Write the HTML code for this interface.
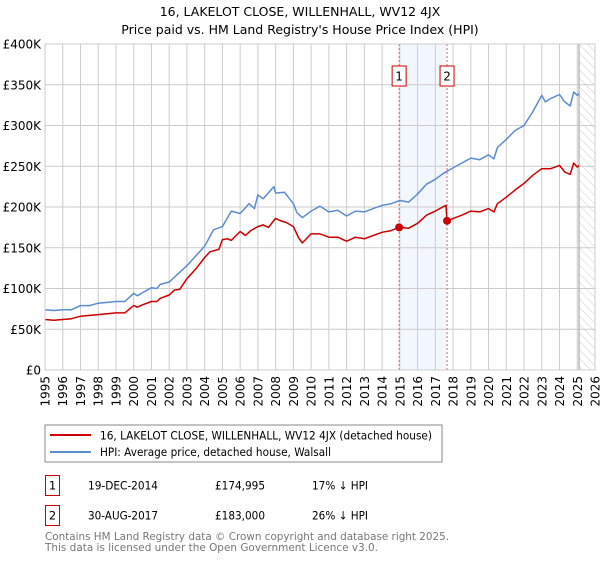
<!DOCTYPE html>
<html><head><meta charset="utf-8"><style>
body{margin:0;background:#fff;font-family:"Liberation Sans","DejaVu Sans",sans-serif;}
svg text{font-family:"DejaVu Sans","Liberation Sans",sans-serif;}
</style></head><body>
<svg id="chart" width="600" height="560" viewBox="0 0 600 560" xmlns="http://www.w3.org/2000/svg">
<defs><pattern id="hatch" width="6" height="6" patternUnits="userSpaceOnUse" patternTransform="rotate(-45)"><line x1="0" y1="0" x2="0" y2="6" stroke="#ccc" stroke-width="1"/></pattern></defs>
<text x="300" y="16" text-anchor="middle" font-size="12.5" fill="#000">16, LAKELOT CLOSE, WILLENHALL, WV12 4JX</text>
<text x="300" y="34" text-anchor="middle" font-size="12.5" fill="#000">Price paid vs. HM Land Registry's House Price Index (HPI)</text>
<g id="plot"></g>
<rect x="45" y="425" width="397" height="37" fill="#fff" stroke="#888"/>
<line x1="50" y1="435" x2="91" y2="435" stroke="#cc0000" stroke-width="2"/>
<text x="100" y="439.5" font-size="11.5" textLength="332" lengthAdjust="spacingAndGlyphs">16, LAKELOT CLOSE, WILLENHALL, WV12 4JX (detached house)</text>
<line x1="50" y1="452" x2="91" y2="452" stroke="#5b8ccf" stroke-width="2"/>
<text x="100" y="456" font-size="11.5" textLength="231" lengthAdjust="spacingAndGlyphs">HPI: Average price, detached house, Walsall</text>
<g>
<rect x="45.5" y="475.5" width="14" height="20" fill="#fff" stroke="#cc0000"/>
<text x="52.5" y="489.5" text-anchor="middle" font-size="11.5">1</text>
<text x="88" y="489.5" font-size="11.5" textLength="70" lengthAdjust="spacingAndGlyphs">19-DEC-2014</text>
<text x="215" y="489.5" font-size="11.5" textLength="50" lengthAdjust="spacingAndGlyphs">£174,995</text>
<text x="312" y="489.5" font-size="11.5" textLength="56" lengthAdjust="spacingAndGlyphs">17% ↓ HPI</text></g>
<g>
<rect x="45.5" y="505.5" width="14" height="20" fill="#fff" stroke="#cc0000"/>
<text x="52.5" y="519.5" text-anchor="middle" font-size="11.5">2</text>
<text x="88" y="519.5" font-size="11.5" textLength="70" lengthAdjust="spacingAndGlyphs">30-AUG-2017</text>
<text x="215" y="519.5" font-size="11.5" textLength="50" lengthAdjust="spacingAndGlyphs">£183,000</text>
<text x="312" y="519.5" font-size="11.5" textLength="56" lengthAdjust="spacingAndGlyphs">26% ↓ HPI</text></g>
<text x="45" y="540" font-size="11" fill="#777" textLength="404" lengthAdjust="spacingAndGlyphs">Contains HM Land Registry data © Crown copyright and database right 2025.</text>
<text x="45" y="551" font-size="11" fill="#777" textLength="333" lengthAdjust="spacingAndGlyphs">This data is licensed under the Open Government Licence v3.0.</text>
</svg>
<script>
const hpiYears=[1995,1995.5,1996,1996.5,1997,1997.5,1998,1998.5,1999,1999.5,2000,2000.2,2000.5,2001,2001.3,2001.5,2002,2002.5,2003,2003.5,2004,2004.5,2005,2005.5,2006,2006.5,2006.8,2007,2007.3,2007.9,2008,2008.5,2009,2009.2,2009.5,2010,2010.5,2011,2011.5,2012,2012.5,2013,2013.5,2014,2014.5,2015,2015.5,2016,2016.5,2017,2017.5,2018,2018.5,2019,2019.5,2020,2020.3,2020.5,2021,2021.5,2022,2022.5,2023,2023.2,2023.5,2024,2024.3,2024.6,2024.8,2025,2025.1];
const hpiValues=[74,73,74,74,79,79,82,83,84,84,94,91,95,101,100,105,108,118,128,140,152,172,176,195,192,204,198,215,210,225,217,218,204,193,187,195,201,194,196,189,195,194,198,202,204,208,206,216,228,234,242,248,254,260,258,264,259,273,283,294,300,317,337,329,333,338,329,324,341,337,339];
const priceYears=[1995,1995.5,1996,1996.5,1997,1998,1999,1999.5,2000,2000.2,2000.5,2001,2001.3,2001.5,2002,2002.3,2002.6,2003,2003.5,2004,2004.3,2004.8,2005,2005.3,2005.5,2006,2006.3,2006.6,2007,2007.3,2007.6,2008,2008.3,2008.6,2009,2009.3,2009.5,2010,2010.5,2011,2011.5,2012,2012.5,2013,2013.5,2014,2014.5,2014.96,2015.5,2016,2016.5,2017,2017.5,2017.6,2017.66,2018,2018.5,2019,2019.5,2020,2020.3,2020.5,2021,2021.5,2022,2022.5,2023,2023.5,2024,2024.3,2024.6,2024.8,2025,2025.1];
const priceValues=[62,61,62,63,66,68,70,70,79,77,80,84,84,88,92,98,99,112,124,138,145,148,160,161,159,170,165,171,176,178,175,186,183,181,176,162,156,167,167,163,163,158,163,161,165,169,171,175,174,180,190,195,201,202,183,186,190,195,194,198,194,204,212,221,229,239,247,247,251,243,240,254,249,251];
const saleYears=[2014.96,2017.66];
const saleValues=[174.995,183];
const saleLabels=["1","2"];
const yTicks=[0,50,100,150,200,250,300,350,400];
const yTickLabels=["£0","£50K","£100K","£150K","£200K","£250K","£300K","£350K","£400K"];
const xTicks=[1995,1996,1997,1998,1999,2000,2001,2002,2003,2004,2005,2006,2007,2008,2009,2010,2011,2012,2013,2014,2015,2016,2017,2018,2019,2020,2021,2022,2023,2024,2025,2026];

const L=45,R=595,T=44,B=370,X0=1995,X1=2026,YMAX=400,DATA_END=2025.1;
const X=y=>L+(y-X0)/(X1-X0)*(R-L);
const Y=v=>B-v/YMAX*(B-T);
const NS="http://www.w3.org/2000/svg";
const g=document.getElementById('plot');
function mk(tag,attrs,parent){const e=document.createElementNS(NS,tag);for(const k in attrs)e.setAttribute(k,attrs[k]);(parent||g).appendChild(e);return e;}

const bg=mk('rect',{x:L,y:T,width:R-L,height:B-T,fill:'#fff'});


const shade=mk('rect',{x:X(saleYears[0]),y:T,width:X(saleYears[1])-X(saleYears[0]),height:B-T,fill:'#f2f6fd'});


const hat=mk('rect',{x:X(DATA_END),y:T,width:R-X(DATA_END),height:B-T,fill:'url(#hatch)'});


xTicks.forEach(t=>{const l=mk('line',{x1:X(t),x2:X(t),y1:T,y2:B,stroke:'#ccc','stroke-width':1});


const tx=mk('text',{x:0,y:0,'font-size':12,'text-anchor':'end',transform:`translate(${X(t)+4.5},${B+6}) rotate(-90)`});tx.textContent=t;

});
yTicks.forEach((t,i)=>{const l=mk('line',{x1:L,x2:R,y1:Y(t),y2:Y(t),stroke:'#ccc','stroke-width':1});


const tx=mk('text',{x:L-4,y:Y(t)+4.5,'font-size':12,'text-anchor':'end'});tx.textContent=yTickLabels[i];

});
const endl=mk('line',{x1:X(DATA_END),x2:X(DATA_END),y1:T,y2:B,stroke:'#999','stroke-width':1});


saleYears.forEach((s,i)=>{const l=mk('line',{x1:X(s),x2:X(s),y1:T,y2:B,stroke:'#e06060','stroke-width':1,'stroke-dasharray':'2,2'});


const r=mk('rect',{x:X(s)-7,y:66,width:14,height:20,fill:'#fff',stroke:'#cc0000'});


const tx=mk('text',{x:X(s),y:80.5,'font-size':12,'text-anchor':'middle'});tx.textContent=saleLabels[i];

});
function path(xs,vs,col,name){const d=xs.map((x,i)=>(i?'L':'M')+X(x).toFixed(1)+','+Y(vs[i]).toFixed(1)).join('');
const p=mk('path',{d,fill:'none',stroke:col,'stroke-width':1.5,'stroke-linejoin':'round'});

}
path(hpiYears,hpiValues,'#5b8ccf','hpi-line');
path(priceYears,priceValues,'#cc0000','price-paid-line');
saleYears.forEach((s,i)=>{const c=mk('circle',{cx:X(s),cy:Y(saleValues[i]),r:4,fill:'#cc0000'});

});
const fr=mk('rect',{x:L,y:T,width:R-L,height:B-T,fill:'none',stroke:'#ccc'});


</script>
</body></html>
